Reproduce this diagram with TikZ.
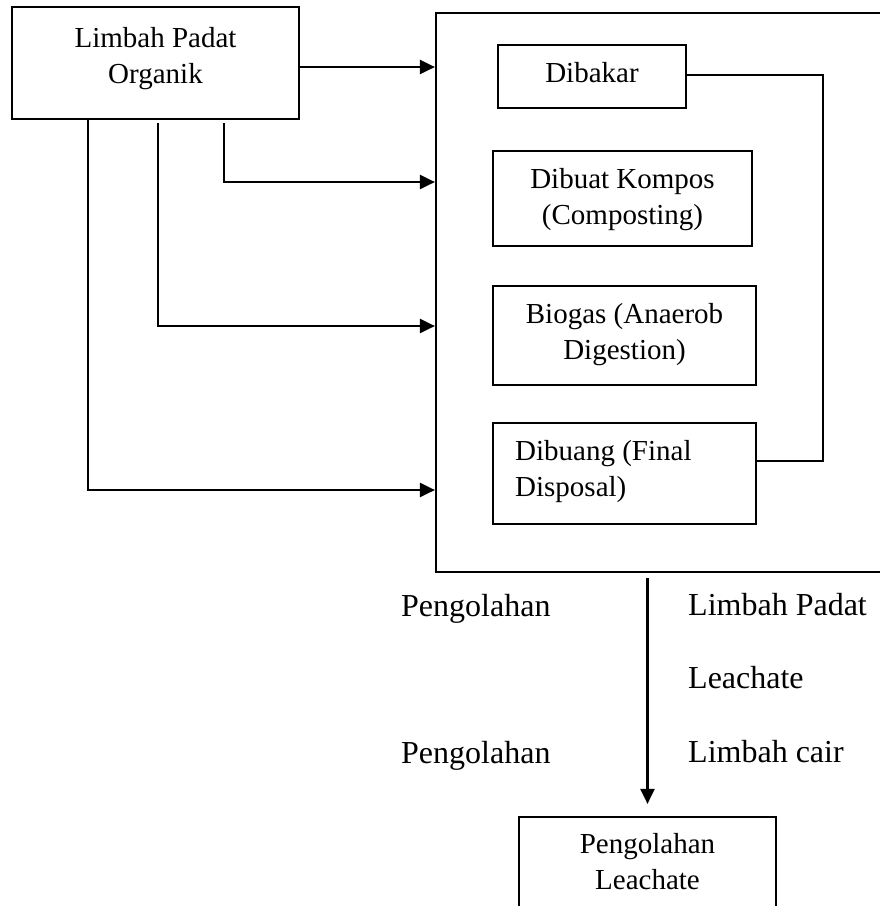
\documentclass[tikz,border=0pt]{standalone}
\usepackage{fontspec}
\setmainfont{Liberation Serif}
\usetikzlibrary{arrows.meta}
\begin{document}
\begin{tikzpicture}[x=1pt,y=-1pt,
  box/.style={draw,line width=2.2pt,rectangle,inner sep=0pt},
  txt/.style={inner sep=0pt,font=\fontsize{29}{36}\selectfont,align=center},
  free/.style={inner sep=0pt,anchor=base west,font=\fontsize{32}{38}\selectfont},
  link/.style={line width=2.2pt},
  arr/.style={line width=2.2pt,-{Triangle[length=15pt,width=14pt]}}]
\useasboundingbox (0,0) rectangle (880,906);
\clip (0,0) rectangle (880,906);

% outer processing frame and the boxes inside it
\node[box,minimum width=464pt,minimum height=559pt] (proc) at (668,292.5) {};
\node[box,minimum width=287pt,minimum height=112pt] (src) at (155.5,63) {};
\node[box,minimum width=188pt,minimum height=63pt] (bakar) at (592,76.5) {};
\node[box,minimum width=259pt,minimum height=95pt] (kompos) at (622.5,198.5) {};
\node[box,minimum width=263pt,minimum height=99pt] (biogas) at (624.5,335.5) {};
\node[box,minimum width=263pt,minimum height=101pt] (buang) at (624.5,473.5) {};
\node[box,minimum width=257pt,minimum height=140pt] (leach) at (647.5,887) {};

% box texts
\node[txt,anchor=north] (srct) at (155.5,27.2) {Limbah Padat\\Organik};
\node[txt,anchor=base] (bakart) at (592,82) {Dibakar};
\node[txt,anchor=north] (kompost) at (622.5,168.2) {Dibuat Kompos\\(Composting)};
\node[txt,anchor=north] (biogast) at (624.5,303.2) {Biogas (Anaerob\\Digestion)};
\node[txt,anchor=north west,align=left] (buangt) at (515,440.2) {Dibuang (Final\\Disposal)};
\node[txt,anchor=north] (leacht) at (647.5,833.2) {Pengolahan\\Leachate};

% labels beside the outflow arrow
\node[free] (p1) at (401,616) {Pengolahan};
\node[free] (lp) at (688,615) {Limbah Padat};
\node[free] (lc) at (688,688) {Leachate};
\node[free] (p2) at (401,763) {Pengolahan};
\node[free] (lcair) at (688,762) {Limbah cair};

% feeds from the organic waste box into the frame
\draw[arr] (src.east |- 0,67) -- (proc.west |- 0,67);
\draw[arr] (224,123) -- (224,182) -- (proc.west |- 0,182);
\draw[arr] (158,123) -- (158,326) -- (proc.west |- 0,326);
\draw[arr] (src.south -| 88,0) -- (88,490) -- (proc.west |- 0,490);

% return line from Dibakar to Dibuang
\draw[link] (bakar.east |- 0,75) -- (823,75) -- (823,461) -- (buang.east |- 0,461);

% outflow to leachate treatment
\draw[arr] ([yshift=-5pt]proc.south -| leach.north) -- ([yshift=12pt]leach.north);
\end{tikzpicture}
\end{document}
